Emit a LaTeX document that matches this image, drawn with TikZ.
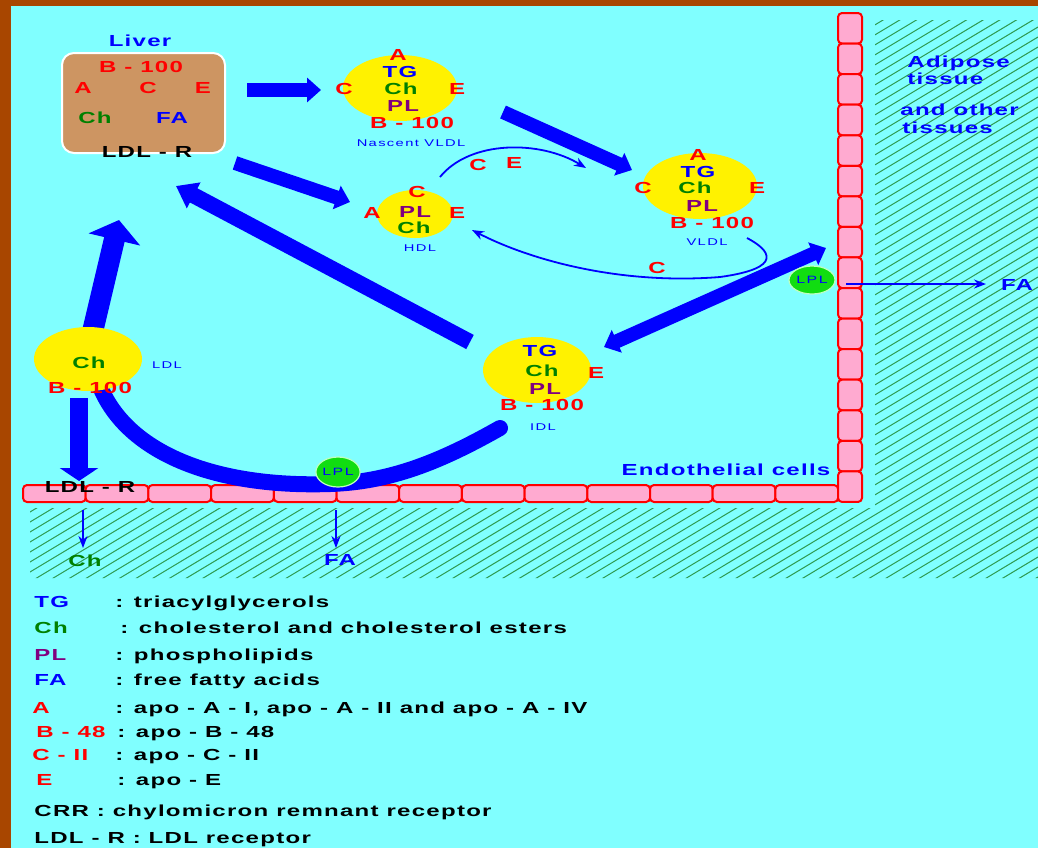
\documentclass[tikz,border=0pt]{standalone}
\usepackage{fontspec}
\usetikzlibrary{arrows.meta,shapes.geometric}
\newfontfamily\labfont{Liberation Sans}[FakeStretch=1.5,LetterSpace=8]
\newfontfamily\smfont{Liberation Sans}[FakeStretch=1.5,LetterSpace=14]
\definecolor{bgcyan}{HTML}{80FFFF}
\definecolor{framebrown}{HTML}{A84600}
\definecolor{liverbrown}{HTML}{CD9562}
\definecolor{cellpink}{HTML}{FFAAD0}
\definecolor{lplgreen}{HTML}{11DD11}
\definecolor{hatchgreen}{HTML}{2E9A50}
\definecolor{chgreen}{HTML}{008000}
\definecolor{plpurple}{HTML}{800080}
\begin{document}
\begin{tikzpicture}[x=0.5pt,y=-0.5pt,
  lab/.style={font=\labfont\bfseries\fontsize{8}{9}\selectfont, inner sep=0pt, text height=5.7pt, text depth=0pt},
  rd/.style={lab,text=red},
  bl/.style={lab,text=blue},
  gr/.style={lab,text=chgreen},
  pu/.style={lab,text=plpurple},
  bk/.style={lab,text=black},
  sm/.style={font=\smfont\fontsize{4.9}{5}\selectfont, text=blue, inner sep=0pt, text height=3.5pt, text depth=0pt},
  leg/.style={font=\labfont\bfseries\fontsize{8}{9}\selectfont, inner sep=0pt, text height=5.8pt, text depth=0pt, anchor=west},
  particle/.style={ellipse, fill=yellow, draw=none, inner sep=0pt},
  lpl/.style={ellipse, fill=lplgreen, draw=green!25!white, line width=0.6pt, inner sep=0pt, font=\smfont\fontsize{5.3}{6}\selectfont, text=blue},
  cellbox/.style={draw=red, fill=cellpink, line width=1pt, rounded corners=2pt},
  hatchline/.style={draw=hatchgreen, line width=0.5pt},
  bigarrow/.style={draw=blue, line width=7pt, -{Triangle[width=12pt,length=7pt]}},
  thinarrow/.style={draw=blue, line width=0.9pt, -{Stealth[length=6pt,width=4.5pt]}},
]
\useasboundingbox (0,0) rectangle (1038,848);
% background
\fill[framebrown] (0,0) rectangle (1038,848);
\fill[bgcyan] (11,6) rectangle (1038,848);
% hatching
\begin{scope}
\clip (875,20) rectangle (1038,508) (30,508) rectangle (1038,578);
\foreach \c in {0,10,...,1700} \draw[hatchline] (0,\c) -- (1038,\c-623);
\end{scope}
% endothelial cells
\foreach \i in {0,...,12} \draw[cellbox] ({23+\i*62.7},485) rectangle ({23+(\i+1)*62.7},502);
\foreach \i in {0,...,15} \draw[cellbox] (838,{13+\i*30.56}) rectangle (862,{13+(\i+1)*30.56});
% liver
\node[draw=white, line width=1pt, fill=liverbrown, rounded corners=6pt, minimum width=81.5pt, minimum height=50pt, inner sep=0pt] (liver) at (143.5,103) {};
% coordinates
\coordinate (a1s) at (247,90); \coordinate (a1e) at (321,90);
\coordinate (a2s) at (503,112); \coordinate (a2e) at (632,170);
\coordinate (a3s) at (235,163); \coordinate (a3e) at (350,202);
\coordinate (a4s) at (470,342); \coordinate (a4e) at (176,186);
\coordinate (a5s) at (92,334); \coordinate (a5e) at (119,220);
\coordinate (a6s) at (604,347); \coordinate (a6e) at (826,248);
\coordinate (a7s) at (79,398); \coordinate (a7e) at (79,481);
\coordinate (c1) at (500,428); \coordinate (c2) at (330,484); \coordinate (c3) at (97,378);
\coordinate (t1s) at (440,177); \coordinate (t1e) at (586,168);
\coordinate (t2s) at (747,238); \coordinate (t2m) at (720,277); \coordinate (t2e) at (472,230);
\coordinate (t3s) at (846,284); \coordinate (t3e) at (986,284);
\coordinate (t4s) at (83,510); \coordinate (t4e) at (83,548);
\coordinate (t5s) at (336,510); \coordinate (t5e) at (336,548);
% thin arrows
\draw[thinarrow] (t1s) .. controls (470,140) and (540,140) .. (t1e);
\draw[thinarrow] (t2s) .. controls (770,250) and (785,268) .. (t2m) .. controls (620,285) and (530,260) .. (t2e);
\draw[thinarrow] (t3s) -- (t3e);
\draw[thinarrow] (t4s) -- (t4e);
\draw[thinarrow] (t5s) -- (t5e);
% thick curve IDL -> LDL
\draw[blue, line width=8pt, line cap=round] (c1) .. controls (440,462) and (390,482) .. (c2) .. controls (210,488) and (120,450) .. (c3);
% big arrows
\draw[bigarrow] (a1s) -- (a1e);
\draw[bigarrow] (a2s) -- (a2e);
\draw[bigarrow] (a3s) -- (a3e);
\draw[draw=blue, line width=8pt, -{Triangle[width=14pt,length=10pt]}] (a4s) -- (a4e);
\draw[draw=blue, line width=10.5pt, -{Triangle[width=26pt,length=10pt]}] (a5s) -- (a5e);
\draw[draw=blue, line width=7pt, {Triangle[width=12pt,length=7pt]}-{Triangle[width=12pt,length=7pt]}] (a6s) -- (a6e);
\draw[draw=blue, line width=9pt, -{Triangle[width=19pt,length=6.5pt]}] (a7s) -- (a7e);
% particles
\node[particle, minimum width=57pt, minimum height=33pt] (nv) at (400,88) {};
\node[particle, minimum width=38pt, minimum height=24pt] (hdl) at (415,214) {};
\node[particle, minimum width=57pt, minimum height=33pt] (vldl) at (700,186) {};
\node[particle, minimum width=54pt, minimum height=33pt] (idl) at (537,370) {};
\node[particle, minimum width=54pt, minimum height=32pt] (ldl) at (88,359) {};
\node[lpl, minimum width=23pt, minimum height=14pt] (lpl1) at (812,280) {LPL};
\node[lpl, minimum width=22pt, minimum height=15pt] (lpl2) at (338,472) {LPL};
% liver labels
\node[bl] (liverlab) at (140,41) {Liver};
\node[rd] (lB) at (141,67) {B - 100};
\node[rd] (lA) at (83,88) {A};
\node[rd] (lC) at (148,88) {C};
\node[rd] (lE) at (203,88) {E};
\node[gr] (lCh) at (95,118) {Ch};
\node[bl] (lFA) at (172,118) {FA};
\node[bk] (lR) at (147,152) {LDL - R};
% nascent VLDL labels
\node[rd] (nvA) at (398,55) {A};
\node[bl] (nvTG) at (400,72) {TG};
\node[rd] (nvC) at (344,89) {C};
\node[gr] (nvCh) at (401,89) {Ch};
\node[rd] (nvE) at (457,89) {E};
\node[pu] (nvPL) at (403,106) {PL};
\node[rd] (nvB) at (412,123) {B - 100};
\node[sm] (nvlab) at (411,143) {Nascent VLDL};
% HDL labels
\node[rd] (hC) at (417,192) {C};
\node[rd] (hA) at (372,213) {A};
\node[pu] (hPL) at (415,212) {PL};
\node[rd] (hE) at (457,213) {E};
\node[gr] (hCh) at (414,228) {Ch};
\node[sm] (hlab) at (420,248) {HDL};
% VLDL labels
\node[rd] (vA) at (698,155) {A};
\node[bl] (vTG) at (698,172) {TG};
\node[rd] (vC) at (643,188) {C};
\node[gr] (vCh) at (695,188) {Ch};
\node[rd] (vE) at (757,188) {E};
\node[pu] (vPL) at (702,206) {PL};
\node[rd] (vB) at (712,223) {B - 100};
\node[sm] (vlab) at (707,242) {VLDL};
% IDL labels
\node[bl] (iTG) at (540,351) {TG};
\node[gr] (iCh) at (542,371) {Ch};
\node[rd] (iE) at (596,373) {E};
\node[pu] (iPL) at (545,389) {PL};
\node[rd] (iB) at (542,405) {B - 100};
\node[sm] (ilab) at (543,427) {IDL};
% LDL labels
\node[gr] (dCh) at (89,363) {Ch};
\node[rd] (dB) at (90,388) {B - 100};
\node[sm] (dlab) at (167,365) {LDL};
\node[bk] (dR) at (90,487) {LDL - R};
% arrow labels
\node[rd] (ceC) at (478,165) {C};
\node[rd] (ceE) at (514,163) {E};
\node[rd] (cC) at (657,268) {C};
\node[bl] (faR) at (1017,285) {FA};
\node[gr] (chB) at (85,561) {Ch};
\node[bl] (faB) at (340,560) {FA};
\node[bl, anchor=west] (ad1) at (907,62) {Adipose};
\node[bl, anchor=west] (ad2) at (907,79) {tissue};
\node[bl, anchor=west] (ad3) at (900,110) {and other};
\node[bl, anchor=west] (ad4) at (902,128) {tissues};
\node[bl] (endo) at (726,470) {Endothelial cells};
% legend
\node[leg,text=blue] (kTG) at (34,602) {TG};
\node[leg] (xTG) at (115,602) {: triacylglycerols};
\node[leg,text=chgreen] (kCh) at (34,628) {Ch};
\node[leg] (xCh) at (120,628) {: cholesterol and cholesterol esters};
\node[leg,text=plpurple] (kPL) at (34,655) {PL};
\node[leg] (xPL) at (115,655) {: phospholipids};
\node[leg,text=blue] (kFA) at (34,680) {FA};
\node[leg] (xFA) at (115,680) {: free fatty acids};
\node[leg,text=red] (kA) at (32,708) {A};
\node[leg] (xA) at (115,708) {: apo - A - I, apo - A - II and apo - A - IV};
\node[leg,text=red] (kB) at (36,732) {B - 48};
\node[leg] (xB) at (117,732) {: apo - B - 48};
\node[leg,text=red] (kC) at (32,755) {C - II};
\node[leg] (xC) at (115,755) {: apo - C - II};
\node[leg,text=red] (kE) at (36,780) {E};
\node[leg] (xE) at (117,780) {: apo - E};
\node[leg] (crr) at (34,811) {CRR : chylomicron remnant receptor};
\node[leg] (ldlr) at (34,838) {LDL - R : LDL receptor};
\end{tikzpicture}
\end{document}
